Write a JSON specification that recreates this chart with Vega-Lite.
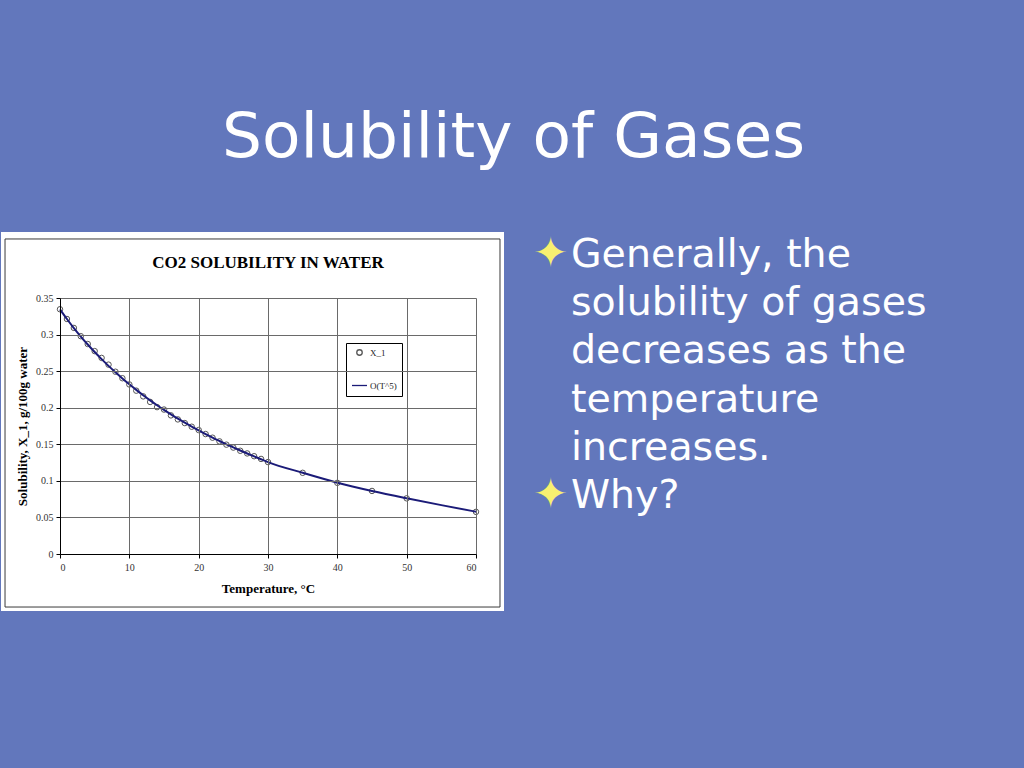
{
  "$schema": "https://vega.github.io/schema/vega-lite/v6.json",
  "background": "#6277bc",
  "padding": {"left": 0, "top": 107, "right": 4, "bottom": 160},
  "title": {
    "text": "Solubility of Gases",
    "font": "DejaVu Sans",
    "fontSize": 63,
    "fontWeight": "normal",
    "color": "#ffffff",
    "anchor": "middle",
    "frame": "bounds",
    "baseline": "alphabetic",
    "offset": 12
  },
  "spacing": 28,
  "resolve": {
    "scale": {"color": "independent", "size": "independent", "shape": "independent"},
    "legend": {"color": "independent", "size": "independent", "shape": "independent"}
  },
  "datasets": {
    "solubility": [
      {"series": "X_1", "T": 0, "X": 0.3346},
      {"series": "X_1", "T": 1, "X": 0.3213},
      {"series": "X_1", "T": 2, "X": 0.3091},
      {"series": "X_1", "T": 3, "X": 0.2978},
      {"series": "X_1", "T": 4, "X": 0.2871},
      {"series": "X_1", "T": 5, "X": 0.2774},
      {"series": "X_1", "T": 6, "X": 0.2681},
      {"series": "X_1", "T": 7, "X": 0.2589},
      {"series": "X_1", "T": 8, "X": 0.2492},
      {"series": "X_1", "T": 9, "X": 0.2403},
      {"series": "X_1", "T": 10, "X": 0.2318},
      {"series": "X_1", "T": 11, "X": 0.2233},
      {"series": "X_1", "T": 12, "X": 0.2155},
      {"series": "X_1", "T": 13, "X": 0.2079},
      {"series": "X_1", "T": 14, "X": 0.2008},
      {"series": "X_1", "T": 15, "X": 0.1975},
      {"series": "X_1", "T": 16, "X": 0.1895},
      {"series": "X_1", "T": 17, "X": 0.1840},
      {"series": "X_1", "T": 18, "X": 0.1790},
      {"series": "X_1", "T": 19, "X": 0.1740},
      {"series": "X_1", "T": 20, "X": 0.1695},
      {"series": "X_1", "T": 21, "X": 0.1640},
      {"series": "X_1", "T": 22, "X": 0.1590},
      {"series": "X_1", "T": 23, "X": 0.1540},
      {"series": "X_1", "T": 24, "X": 0.1495},
      {"series": "X_1", "T": 25, "X": 0.1455},
      {"series": "X_1", "T": 26, "X": 0.1411},
      {"series": "X_1", "T": 27, "X": 0.1375},
      {"series": "X_1", "T": 28, "X": 0.1337},
      {"series": "X_1", "T": 29, "X": 0.1300},
      {"series": "X_1", "T": 30, "X": 0.1257},
      {"series": "X_1", "T": 35, "X": 0.1110},
      {"series": "X_1", "T": 40, "X": 0.0973},
      {"series": "X_1", "T": 45, "X": 0.0862},
      {"series": "X_1", "T": 50, "X": 0.0761},
      {"series": "X_1", "T": 60, "X": 0.0576},
      {"series": "O(T^5)", "T": 0, "X": 0.3345},
      {"series": "O(T^5)", "T": 1, "X": 0.3213},
      {"series": "O(T^5)", "T": 2, "X": 0.3089},
      {"series": "O(T^5)", "T": 3, "X": 0.2973},
      {"series": "O(T^5)", "T": 4, "X": 0.2864},
      {"series": "O(T^5)", "T": 5, "X": 0.2761},
      {"series": "O(T^5)", "T": 6, "X": 0.2664},
      {"series": "O(T^5)", "T": 7, "X": 0.2572},
      {"series": "O(T^5)", "T": 8, "X": 0.2484},
      {"series": "O(T^5)", "T": 9, "X": 0.2400},
      {"series": "O(T^5)", "T": 10, "X": 0.2320},
      {"series": "O(T^5)", "T": 11, "X": 0.2244},
      {"series": "O(T^5)", "T": 12, "X": 0.2171},
      {"series": "O(T^5)", "T": 13, "X": 0.2101},
      {"series": "O(T^5)", "T": 14, "X": 0.2034},
      {"series": "O(T^5)", "T": 15, "X": 0.1970},
      {"series": "O(T^5)", "T": 16, "X": 0.1909},
      {"series": "O(T^5)", "T": 17, "X": 0.1851},
      {"series": "O(T^5)", "T": 18, "X": 0.1795},
      {"series": "O(T^5)", "T": 19, "X": 0.1741},
      {"series": "O(T^5)", "T": 20, "X": 0.1689},
      {"series": "O(T^5)", "T": 21, "X": 0.1639},
      {"series": "O(T^5)", "T": 22, "X": 0.1591},
      {"series": "O(T^5)", "T": 23, "X": 0.1545},
      {"series": "O(T^5)", "T": 24, "X": 0.1500},
      {"series": "O(T^5)", "T": 25, "X": 0.1457},
      {"series": "O(T^5)", "T": 26, "X": 0.1415},
      {"series": "O(T^5)", "T": 27, "X": 0.1374},
      {"series": "O(T^5)", "T": 28, "X": 0.1334},
      {"series": "O(T^5)", "T": 29, "X": 0.1295},
      {"series": "O(T^5)", "T": 30, "X": 0.1257},
      {"series": "O(T^5)", "T": 35, "X": 0.1110},
      {"series": "O(T^5)", "T": 40, "X": 0.0975},
      {"series": "O(T^5)", "T": 45, "X": 0.0862},
      {"series": "O(T^5)", "T": 50, "X": 0.0762},
      {"series": "O(T^5)", "T": 55, "X": 0.0668},
      {"series": "O(T^5)", "T": 60, "X": 0.0578}
    ],
    "bullets": [
      {"line": 1, "part": "bullet", "txt": "✦"},
      {"line": 1, "part": "text", "txt": "Generally, the"},
      {"line": 2, "part": "text", "txt": "solubility of gases"},
      {"line": 3, "part": "text", "txt": "decreases as the"},
      {"line": 4, "part": "text", "txt": "temperature"},
      {"line": 5, "part": "text", "txt": "increases."},
      {"line": 6, "part": "bullet", "txt": "✦"},
      {"line": 6, "part": "text", "txt": "Why?"}
    ]
  },
  "hconcat": [
    {
      "width": 416,
      "height": 256,
      "title": {
        "text": "CO2 SOLUBILITY IN WATER",
        "font": "Liberation Serif",
        "fontSize": 17,
        "fontWeight": "bold",
        "color": "#000000",
        "anchor": "middle",
        "frame": "group",
        "offset": -40
      },
      "layer": [
        {
          "data": {"values": [{}]},
          "mark": {"type": "rect", "fill": "#ffffff", "clip": false},
          "encoding": {
            "x": {"datum": -8.51, "type": "quantitative", "scale": {"domain": [0, 60], "nice": false, "zero": false},
              "axis": {"title": "Temperature, °C", "values": [0, 10, 20, 30, 40, 50, 60], "zindex": 1, "grid": true, "labelOverlap": false}},
            "x2": {"datum": 64.04},
            "y": {"datum": -0.0779, "type": "quantitative", "scale": {"domain": [0, 0.35], "nice": false, "zero": false},
              "axis": {"title": "Solubility, X_1, g/100g water", "values": [0, 0.05, 0.1, 0.15, 0.2, 0.25, 0.3, 0.35], "format": ".2~f", "zindex": 1, "grid": true, "labelOverlap": false}},
            "y2": {"datum": 0.4402}
          }
        },
        {
          "data": {"values": [{}]},
          "mark": {"type": "rect", "fill": null, "stroke": "#3a3a3a", "strokeWidth": 1, "clip": false},
          "encoding": {
            "x": {"datum": -7.93, "type": "quantitative",
              "axis": {"title": "Temperature, °C", "values": [0, 10, 20, 30, 40, 50, 60], "zindex": 1, "grid": true, "labelOverlap": false}},
            "x2": {"datum": 63.46},
            "y": {"datum": -0.0725, "type": "quantitative",
              "axis": {"title": "Solubility, X_1, g/100g water", "values": [0, 0.05, 0.1, 0.15, 0.2, 0.25, 0.3, 0.35], "format": ".2~f", "zindex": 1, "grid": true, "labelOverlap": false}},
            "y2": {"datum": 0.4307}
          }
        },
        {
          "data": {"name": "solubility"},
          "transform": [{"filter": "datum.series === 'X_1'"}],
          "mark": {"type": "point", "filled": false, "strokeWidth": 1, "opacity": 1},
          "encoding": {
            "x": {
              "field": "T", "type": "quantitative",
              "scale": {"domain": [0, 60], "nice": false, "zero": false},
              "axis": {"title": "Temperature, °C", "values": [0, 10, 20, 30, 40, 50, 60], "zindex": 1, "grid": true, "labelOverlap": false}
            },
            "y": {
              "field": "X", "type": "quantitative",
              "scale": {"domain": [0, 0.35], "nice": false, "zero": false},
              "axis": {"title": "Solubility, X_1, g/100g water", "values": [0, 0.05, 0.1, 0.15, 0.2, 0.25, 0.3, 0.35], "format": ".2~f", "zindex": 1, "grid": true, "labelOverlap": false}
            },
            "color": {
              "field": "series", "type": "nominal",
              "scale": {"domain": ["X_1", "O(T^5)"], "range": ["#555555", "#1b1b78"]},
              "legend": {"title": null, "orient": "none", "legendX": 286, "legendY": 45}
            },
            "shape": {
              "field": "series", "type": "nominal",
              "scale": {"domain": ["X_1", "O(T^5)"], "range": ["circle", "stroke"]},
              "legend": {"title": null, "orient": "none", "legendX": 286, "legendY": 45}
            },
            "size": {
              "field": "series", "type": "nominal",
              "scale": {"domain": ["X_1", "O(T^5)"], "range": [30, 225]},
              "legend": {"title": null, "orient": "none", "legendX": 286, "legendY": 45}
            }
          }
        },
        {
          "data": {"name": "solubility"},
          "transform": [{"filter": "datum.series === 'O(T^5)'"}],
          "mark": {"type": "line", "color": "#1b1b78", "strokeWidth": 2, "interpolate": "monotone"},
          "encoding": {
            "x": {"field": "T", "type": "quantitative",
              "axis": {"title": "Temperature, °C", "values": [0, 10, 20, 30, 40, 50, 60], "zindex": 1, "grid": true, "labelOverlap": false}},
            "y": {"field": "X", "type": "quantitative",
              "axis": {"title": "Solubility, X_1, g/100g water", "values": [0, 0.05, 0.1, 0.15, 0.2, 0.25, 0.3, 0.35], "format": ".2~f", "zindex": 1, "grid": true, "labelOverlap": false}}
          }
        }
      ]
    },
    {
      "width": 493,
      "height": 290,
      "data": {"name": "bullets"},
      "mark": {"type": "text", "align": "left", "baseline": "alphabetic", "font": "DejaVu Sans"},
      "encoding": {
        "x": {"field": "part", "type": "nominal", "scale": {"type": "point", "domain": ["bullet", "text"], "range": [0, 38], "padding": 0}, "axis": null},
        "y": {"field": "line", "type": "quantitative", "scale": {"domain": [1.65, 7.65], "zero": false, "nice": false, "reverse": true}, "axis": null},
        "text": {"field": "txt"},
        "color": {"field": "part", "type": "nominal", "scale": {"domain": ["bullet", "text"], "range": ["#f8f070", "#ffffff"]}, "legend": null},
        "size": {"field": "part", "type": "nominal", "scale": {"domain": ["bullet", "text"], "range": [42, 39.5]}, "legend": null}
      }
    }
  ],
  "config": {
    "view": {"stroke": null},
    "axis": {
      "labelFont": "Liberation Serif",
      "labelFontSize": 10,
      "labelColor": "#333333",
      "titleFont": "Liberation Serif",
      "titleFontSize": 13,
      "titleFontWeight": "bold",
      "titleColor": "#000000",
      "domainColor": "#000000",
      "domainWidth": 1,
      "tickColor": "#000000",
      "tickSize": 4,
      "gridColor": "#6a6a6a",
      "gridWidth": 1,
      "gridOpacity": 1,
      "labelPadding": 3
    },
    "axisX": {"labelPadding": 4, "titlePadding": 10},
    "axisY": {"titlePadding": 6},
    "legend": {
      "fillColor": "#ffffff",
      "strokeColor": "#000000",
      "padding": 5,
      "labelFont": "Liberation Serif",
      "labelFontSize": 9,
      "labelColor": "#222222",
      "labelOffset": 2,
      "rowPadding": 19,
      "symbolStrokeWidth": 1.3
    }
  }
}
